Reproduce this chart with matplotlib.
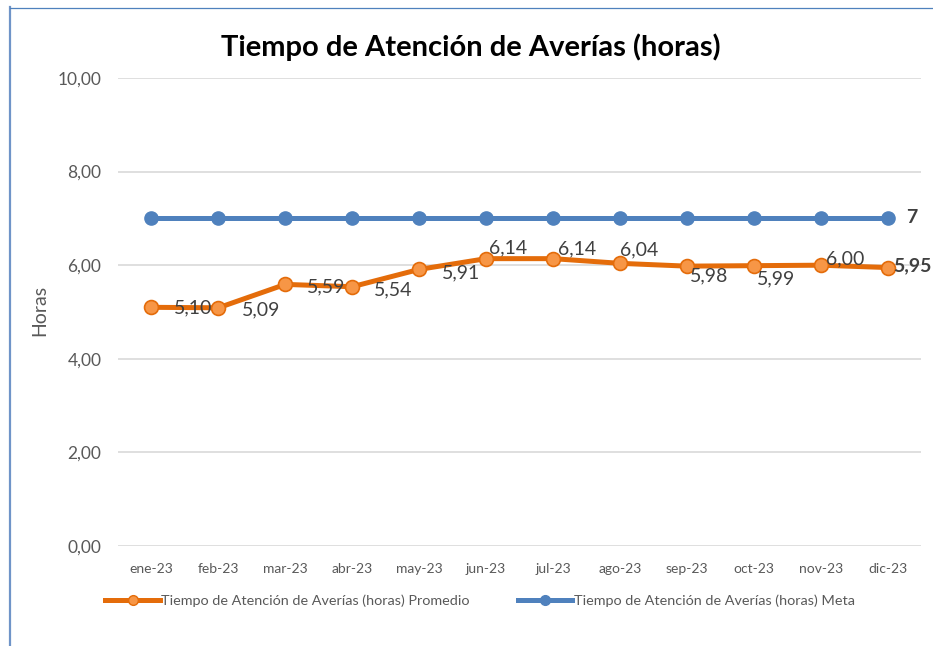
import matplotlib
matplotlib.use("Agg")
import matplotlib.pyplot as plt
from matplotlib.ticker import FuncFormatter, MultipleLocator
from matplotlib.lines import Line2D

plt.rcParams['font.family'] = ['Lato', 'DejaVu Sans']

months = ["ene-23", "feb-23", "mar-23", "abr-23", "may-23", "jun-23",
          "jul-23", "ago-23", "sep-23", "oct-23", "nov-23", "dic-23"]
promedio = [5.10, 5.09, 5.59, 5.54, 5.91, 6.14, 6.14, 6.04, 5.98, 5.99, 6.00, 5.95]
meta = [7, 7, 7, 7, 7, 7, 7, 7, 7, 7, 7, 7]
title = "Tiempo de Atención de Averías (horas)"
ylabel = "Horas"
legend_labels = ["Tiempo de Atención de Averías (horas) Promedio",
                 "Tiempo de Atención de Averías (horas) Meta"]

# label offsets in pixels (dx right, dy down) relative to each point
lab_off = [(22, 1), (24, 2), (22, 2), (22, 3), (23, 3), (3, -11),
           (5, -10), (0, -13), (3, 10), (3, 13), (5, -6), (6, -2)]

ORANGE = "#E46C0A"
ORANGE_L = "#F79646"
BLUE = "#4F81BD"

W, H = 933, 646
fig = plt.figure(figsize=(W / 100, H / 100), dpi=100)
ax = fig.add_axes([118 / W, 1 - 546 / H, (921 - 118) / W, (546 - 78) / H])

x = list(range(len(months)))
ax.plot(x, promedio, color=ORANGE, lw=3.6, marker='o', ms=10,
        mfc=ORANGE_L, mec=ORANGE, mew=1.2, zorder=3)
ax.plot(x, meta, color=BLUE, lw=3.6, marker='o', ms=9.5,
        mfc=BLUE, mec=BLUE, zorder=3)

for i, v in enumerate(promedio):
    dx, dy = lab_off[i]
    ax.annotate(f"{v:.2f}".replace('.', ','), (x[i], v),
                xytext=(dx * 0.72, -dy * 0.72), textcoords='offset points',
                ha='left', va='center', fontsize=14, color='#404040',
                fontweight='bold' if i == len(promedio) - 1 else 'normal', zorder=4)
ax.annotate(f"{meta[-1]:g}", (x[-1], meta[-1]), xytext=(19 * 0.72, 1 * 0.72),
            textcoords='offset points', ha='left', va='center', fontsize=14,
            color='#404040', fontweight='bold', zorder=4)

ax.set_xlim(-0.5, len(months) - 0.5)
ax.set_ylim(0, 10)
ax.yaxis.set_major_locator(MultipleLocator(2))
ax.yaxis.set_major_formatter(FuncFormatter(lambda v, p: f"{v:.2f}".replace('.', ',')))
ax.set_xticks(x)
ax.set_xticklabels(months)
ax.grid(axis='y', color='#D9D9D9', lw=1.2)
ax.set_axisbelow(True)
for s in ax.spines.values():
    s.set_visible(False)
ax.tick_params(length=0, colors='#595959')
ax.tick_params(axis='x', pad=12, labelsize=10)
ax.tick_params(axis='y', pad=12, labelsize=12.5)

fig.text(40 / W, 1 - 310 / H, ylabel, rotation=90, ha='center', va='center',
         fontsize=14, color='#595959')

fig.text(471 / W, 1 - 47 / H, title, ha='center', va='center',
         fontsize=21, fontweight='bold', color='black')

handles = [Line2D([], [], color=ORANGE, lw=3.6, marker='o', ms=7, mfc=ORANGE_L, mec=ORANGE),
           Line2D([], [], color=BLUE, lw=3.6, marker='o', ms=7, mfc=BLUE, mec=BLUE)]
fig.legend(handles, legend_labels, loc='center', bbox_to_anchor=(480 / W, 1 - 601 / H),
           ncol=2, frameon=False, fontsize=10.4, handlelength=3.8, handletextpad=0.1,
           columnspacing=3.3, labelcolor='#595959')

# frame lines (left and top)
fig.add_artist(Line2D([9.5 / W, 9.5 / W], [0, 1 - 7 / H], color='#6F94C8', lw=1.6))
fig.add_artist(Line2D([9.5 / W, 1], [1 - 7.5 / H, 1 - 7.5 / H], color='#4F81BD', lw=0.9))

fig.savefig("out.png", dpi=100)
